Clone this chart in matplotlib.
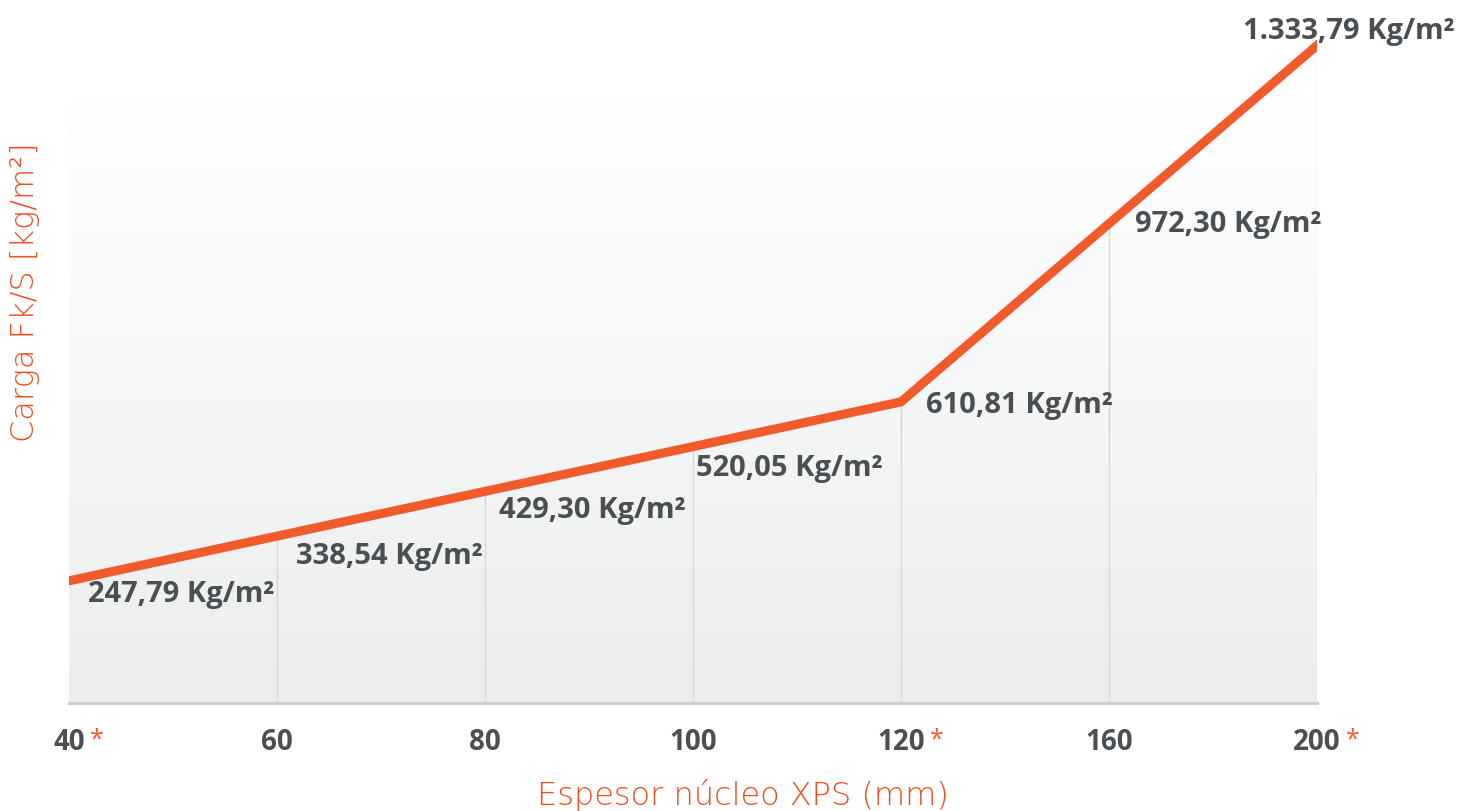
import matplotlib
matplotlib.use("Agg")
import matplotlib.pyplot as plt
import numpy as np
from matplotlib.colors import LinearSegmentedColormap

# data
thickness = ["40", "60", "80", "100", "120", "160", "200"]
starred = [True, False, False, False, True, False, True]
load = [247.79, 338.54, 429.30, 520.05, 610.81, 972.30, 1333.79]
value_labels = ["247,79", "338,54", "429,30", "520,05", "610,81", "972,30", "1.333,79"]

# label offsets in points (dx, dy) from each point
label_offsets = [(14, -9), (14, -14), (10, -13), (2, -15), (18, -2), (19, 0), (-53, 11)]

ORANGE = "#F15A2B"
TITLE_ORANGE = "#EE4E1F"
DARK = "#4A4F53"
GRID = "#D6D6D6"

BOLD = "Open Sans"
LIGHT = "DejaVu Sans"

fig = plt.figure(figsize=(14.59, 8.12), dpi=100)
ax = fig.add_axes([69 / 1459, 1 - 704 / 812, (1317 - 69) / 1459, 704 / 812])

x = np.arange(len(thickness))
ymax = 704 / 0.493
ax.set_xlim(0, len(x) - 1)
ax.set_ylim(0, ymax)

# gradient background
grad_top = (704 - 98) / 0.493
cmap = LinearSegmentedColormap.from_list("bg", ["#ECEDED", "#FFFFFF"])
ax.imshow(np.linspace(0, 1, 256).reshape(-1, 1), cmap=cmap, aspect="auto",
          extent=(0, len(x) - 1, 0, grad_top), origin="lower", zorder=0)

# drop lines
ax.vlines(x[1:], 0, load[1:], color=GRID, linewidth=1.0, zorder=1)

ax.plot(x, load, color=ORANGE, linewidth=6.5, solid_joinstyle="miter",
        solid_capstyle="projecting", zorder=3)

for xi, v, lab, (dx, dy) in zip(x, load, value_labels, label_offsets):
    ax.annotate(f"{lab} Kg/m²", xy=(xi, v), xytext=(dx, dy), textcoords="offset points",
                ha="left", va="center", fontsize=21, fontweight="bold",
                family=BOLD, color=DARK, annotation_clip=False, zorder=4)

for s in ["top", "right", "left"]:
    ax.spines[s].set_visible(False)
ax.spines["bottom"].set_color("#CFCFCF")
ax.spines["bottom"].set_linewidth(2.2)
ax.set_yticks([])
ax.set_xticks(x)
ax.set_xticklabels(thickness, fontsize=20, fontweight="bold", family=BOLD, color=DARK)
ax.tick_params(axis="x", length=0, pad=17)

for tl, st in zip(ax.get_xticklabels(), starred):
    if st:
        ax.annotate("*", xy=(1, 1), xycoords=tl, xytext=(4, 0), textcoords="offset points",
                    ha="left", va="top", fontsize=18, color=ORANGE, family=BOLD)

fig.text(743 / 1459, 1 - 805 / 812, "Espesor núcleo XPS (mm)", ha="center", va="baseline",
         fontsize=23, color=TITLE_ORANGE, family=LIGHT, fontweight=200)
fig.text(25 / 1459, 1 - 292 / 812, "Carga Fk/S [kg/m²]", rotation=90, ha="center",
         va="center", fontsize=23, color=TITLE_ORANGE, family=LIGHT, fontweight=200)

fig.savefig("out.png", dpi=100)
